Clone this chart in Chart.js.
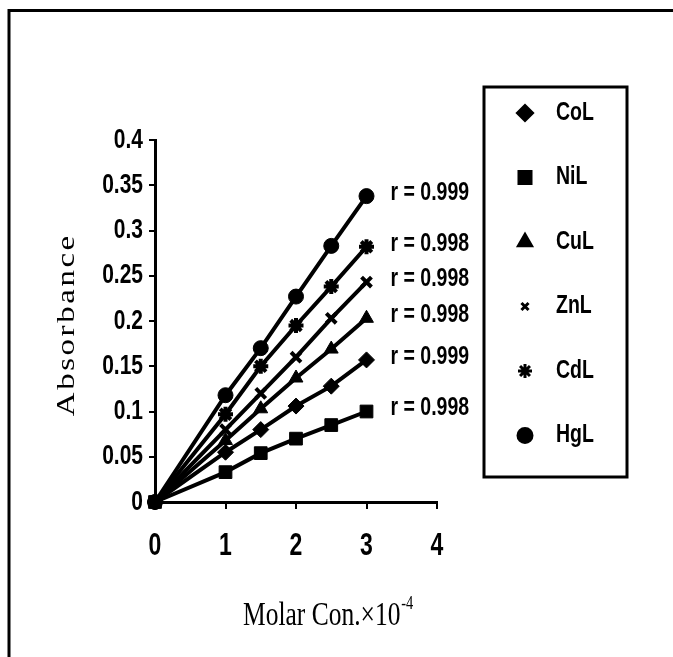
<!DOCTYPE html>
<html>
<head>
<meta charset="utf-8">
<script src="https://cdn.jsdelivr.net/npm/chart.js@4.4.1/dist/chart.umd.min.js"></script>
<style>
html,body{margin:0;padding:0;background:#fff;}
#wrap{position:relative;width:673px;height:657px;}
canvas{display:block;}
</style>
</head>
<body>
<div id="wrap"><canvas id="c" width="673" height="657"></canvas></div>
<script>
// ---- data ----
const xValues = [0, 1, 1.5, 2, 2.5, 3];
const seriesNames = ['CoL', 'NiL', 'CuL', 'ZnL', 'CdL', 'HgL'];
const CoL = [0, 0.055, 0.080, 0.106, 0.128, 0.157];
const NiL = [0, 0.033, 0.054, 0.070, 0.085, 0.100];
const CuL = [0, 0.068, 0.103, 0.137, 0.169, 0.203];
const ZnL = [0, 0.080, 0.120, 0.160, 0.203, 0.243];
const CdL = [0, 0.097, 0.150, 0.195, 0.238, 0.282];
const HgL = [0, 0.118, 0.170, 0.227, 0.283, 0.338];
const rValues = ['0.999', '0.998', '0.998', '0.998', '0.998', '0.999'];
const xTicks = [0, 1, 2, 3, 4];
const yTicks = [0, 0.05, 0.1, 0.15, 0.2, 0.25, 0.3, 0.35, 0.4];
const xTitle = 'Molar Con.\u00d710';
const xTitleSup = '-4';
const yTitle = 'Absorbance';

// ---- styles ----
const seriesValues = [CoL, NiL, CuL, ZnL, CdL, HgL];
const pointStyles = ['rectRot', 'rect', 'triangle', 'crossRot', 'star', 'circle'];
const pointSizes = { rectRot: 8, rect: 9, triangle: 8, crossRot: 7, star: 7.5, circle: 7.5 };
const SANS = "'Liberation Sans', Arial, sans-serif";

function narrowText(ctx, text, x, y, size, sx, align) {
  ctx.save();
  ctx.translate(x, y);
  ctx.scale(sx, 1);
  ctx.font = 'bold ' + size + 'px ' + SANS;
  ctx.textAlign = align;
  ctx.textBaseline = 'middle';
  ctx.fillStyle = '#000';
  ctx.fillText(text, 0, 0);
  ctx.restore();
}
const fmt = v => String(+Number(v).toFixed(2));

const datasets = seriesNames.map((name, i) => ({
  label: name,
  data: xValues.map((x, j) => ({x: x, y: seriesValues[i][j]})),
  showLine: true,
  clip: false,
  order: name === 'NiL' ? 0 : 1,
  borderColor: '#000',
  backgroundColor: '#000',
  borderWidth: 4,
  pointStyle: pointStyles[i],
  pointRadius: pointSizes[pointStyles[i]],
  pointBorderWidth: pointStyles[i] === 'crossRot' || pointStyles[i] === 'star' ? 4 : 1,
  pointBackgroundColor: '#000',
  pointBorderColor: '#000',
  tension: 0
}));

const decor = {
  id: 'decor',
  afterDatasetsDraw(chart) {
    const ctx = chart.ctx;
    // r labels beside the last point of each series
    chart.data.datasets.forEach((ds, i) => {
      const meta = chart.getDatasetMeta(i);
      const p = meta.data[meta.data.length - 1];
      narrowText(ctx, 'r = ' + rValues[i], p.x + 24, p.y - 3, 25, 0.78, 'left');
    });
  },
  afterDraw(chart) {
    const ctx = chart.ctx;
    const xs = chart.scales.x, ys = chart.scales.y;
    // tick labels
    yTicks.forEach(v => narrowText(ctx, fmt(v), ys.right - 12, ys.getPixelForValue(v), 28, 0.75, 'right'));
    xTicks.forEach(v => narrowText(ctx, fmt(v), xs.getPixelForValue(v), xs.top + 44, 32, 0.72, 'center'));

    ctx.save();
    // outer frame (left and top)
    ctx.strokeStyle = '#000';
    ctx.lineWidth = 3;
    ctx.beginPath();
    ctx.moveTo(9, 657);
    ctx.lineTo(9, 10.5);
    ctx.lineTo(673, 10.5);
    ctx.stroke();

    // legend box
    const lx = 484, ly = 87, lw = 143, lh = 390;
    ctx.lineWidth = 3;
    ctx.strokeRect(lx, ly, lw, lh);
    chart.data.datasets.forEach((ds, i) => {
      const y = ly + 26 + i * 64.5;
      ctx.fillStyle = '#000';
      ctx.strokeStyle = '#000';
      Chart.helpers.drawPoint(ctx, {
        pointStyle: ds.pointStyle,
        radius: ds.pointStyle === 'crossRot' ? 5 : ds.pointRadius - 0.5,
        borderWidth: ds.pointStyle === 'crossRot' || ds.pointStyle === 'star' ? 3.5 : 1
      }, 525, y);
      narrowText(ctx, ds.label, 556, y, 25, 0.78, 'left');
    });

    // axis titles
    ctx.fillStyle = '#000';
    ctx.textAlign = 'left';
    ctx.textBaseline = 'alphabetic';
    ctx.save();
    ctx.font = "30px 'Liberation Serif', serif";
    ctx.translate(243, 625);
    ctx.scale(0.85, 1.1);
    const w = ctx.measureText(xTitle).width;
    ctx.fillText(xTitle, 0, 0);
    ctx.font = "17px 'Liberation Serif', serif";
    ctx.fillText(xTitleSup, w + 1, -15);
    ctx.restore();

    ctx.save();
    ctx.translate(67, 326);
    ctx.rotate(-Math.PI / 2);
    ctx.font = "25px 'Liberation Serif', serif";
    ctx.letterSpacing = '2px';
    ctx.textAlign = 'center';
    ctx.textBaseline = 'middle';
    const tw = ctx.measureText(yTitle).width;
    ctx.scale(183 / tw, 1);
    ctx.fillText(yTitle, 1, 0);
    ctx.restore();
    ctx.restore();
  }
};

new Chart(document.getElementById('c'), {
  type: 'scatter',
  data: { datasets: datasets },
  options: {
    responsive: false,
    animation: false,
    devicePixelRatio: 1,
    layout: { padding: { left: 0, top: 140, right: 236, bottom: 95 } },
    plugins: { legend: { display: false }, tooltip: { enabled: false } },
    scales: {
      x: {
        type: 'linear',
        min: 0, max: 4,
        afterBuildTicks: s => { s.ticks = xTicks.map(v => ({value: v})); },
        afterFit: s => { s.height = 60; },
        grid: { drawOnChartArea: false, drawTicks: true, tickLength: 7, color: '#000', lineWidth: 2 },
        border: { display: true, color: '#000', width: 3 },
        ticks: { display: false }
      },
      y: {
        type: 'linear',
        min: 0, max: 0.4,
        afterBuildTicks: s => { s.ticks = yTicks.map(v => ({value: v})); },
        afterFit: s => { s.width = 155; },
        grid: { drawOnChartArea: false, drawTicks: true, tickLength: 6, color: '#000', lineWidth: 2 },
        border: { display: true, color: '#000', width: 3 },
        ticks: { display: false }
      }
    }
  },
  plugins: [decor]
});
</script>
</body>
</html>
